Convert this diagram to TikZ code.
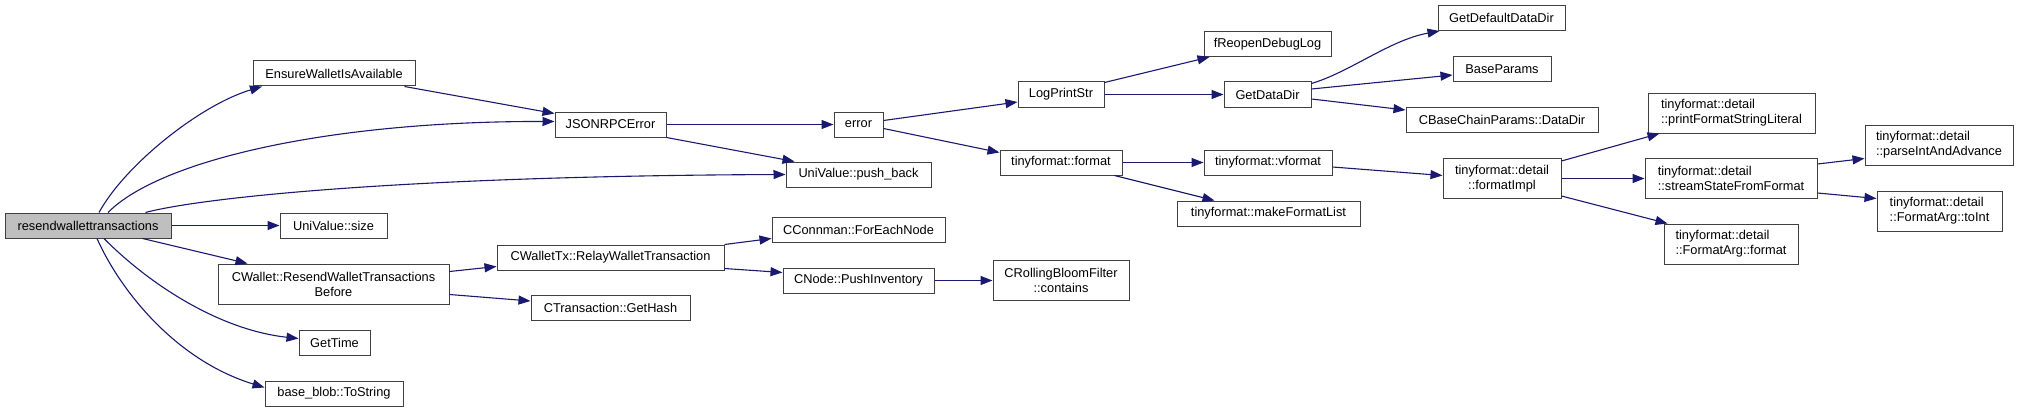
\documentclass[tikz,border=0pt]{standalone}
\usepackage{fontspec}
\setmainfont{Liberation Sans}
\usetikzlibrary{positioning,arrows.meta}
\definecolor{edgeblue}{HTML}{191970}
\definecolor{boxline}{HTML}{404040}

\begin{document}
\begin{tikzpicture}[x=1pt,y=-1pt,>={Triangle[length=12pt,width=9pt]},
  fn/.style={draw=boxline,line width=1pt,fill=white,minimum height=25pt,inner xsep=2pt,inner ysep=0pt,font=\fontsize{12.8}{15}\selectfont},
  fn2/.style={fn,minimum height=40pt},
  call/.style={->,draw=edgeblue,line width=1.1pt}]
\useasboundingbox (0,0) rectangle (2019,412);
\node[fn,fill=black!25,minimum width=166] (resend) at (88,225.5) {resendwallettransactions};
\node[fn,minimum width=162] (ensure) at (334,73.5) {EnsureWalletIsAvailable};
\node[fn,minimum width=111] (jsonrpc) at (610.5,124.5) {JSONRPCError};
\node[fn,minimum width=145] (pushback) at (858.5,174.5) {UniValue::push\_back};
\node[fn,minimum width=107] (size) at (333.5,225.5) {UniValue::size};
\node[fn2,minimum width=231,align=center] (resendbefore) at (333.5,284) {CWallet::ResendWalletTransactions\\Before};
\node[fn,minimum width=71] (gettime) at (334.5,342.5) {GetTime};
\node[fn,minimum width=138] (tostring) at (334,393.5) {base\_blob::ToString};
\node[fn,minimum width=49] (error) at (858.5,124.5) {error};
\node[fn,minimum width=227] (relay) at (610.5,257.5) {CWalletTx::RelayWalletTransaction};
\node[fn,minimum width=159] (gethash) at (610.5,308) {CTransaction::GetHash};
\node[fn,minimum width=86] (logprintstr) at (1061,94.5) {LogPrintStr};
\node[fn,minimum width=122] (tfformat) at (1061,162.5) {tinyformat::format};
\node[fn,minimum width=173] (foreachnode) at (858.5,229.5) {CConnman::ForEachNode};
\node[fn,minimum width=151] (pushinv) at (858.5,280.5) {CNode::PushInventory};
\node[fn2,minimum width=136,align=center] (bloom) at (1061,280.5) {CRollingBloomFilter\\::contains};
\node[fn,minimum width=127] (freopen) at (1267.5,44) {fReopenDebugLog};
\node[fn,minimum width=87] (getdatadir) at (1267.5,94.5) {GetDataDir};
\node[fn,minimum width=128] (vformat) at (1268,162.5) {tinyformat::vformat};
\node[fn,minimum width=183] (makeformatlist) at (1268.5,213.5) {tinyformat::makeFormatList};
\node[fn,minimum width=127] (getdefault) at (1501.5,18) {GetDefaultDataDir};
\node[fn,minimum width=98] (baseparams) at (1502,69) {BaseParams};
\node[fn,minimum width=192] (datadir) at (1502,120) {CBaseChainParams::DataDir};
\node[fn2,minimum width=118,align=center] (formatimpl) at (1502,178.5) {tinyformat::detail\\::formatImpl};
\node[fn2,minimum width=167,align=left] (printliteral) at (1731.5,113) {tinyformat::detail\\::printFormatStringLiteral};
\node[fn2,minimum width=172,align=left] (streamstate) at (1731,178.5) {tinyformat::detail\\::streamStateFromFormat};
\node[fn2,minimum width=134,align=left] (fargformat) at (1731,244) {tinyformat::detail\\::FormatArg::format};
\node[fn2,minimum width=148,align=left] (parseint) at (1939,145) {tinyformat::detail\\::parseIntAndAdvance};
\node[fn2,minimum width=125,align=left] (toint) at (1939.5,211) {tinyformat::detail\\::FormatArg::toInt};
\draw[call] ([xshift=11pt]resend.north) .. controls (125,165) and (200,105) .. ([xshift=-72pt]ensure.south);
\draw[call] ([xshift=20pt]resend.north) .. controls (160,160) and (330,121) .. ([yshift=3pt]jsonrpc.west);
\draw[call] ([xshift=-26pt]resend.north east) .. controls (200,198) and (400,176) .. (pushback.west);
\draw[call] (resend) -- (size);
\draw[call] ([xshift=-29pt]resend.south east) -- ([xshift=30pt]resendbefore.north west);
\draw[call] ([xshift=16pt]resend.south) .. controls (150,285) and (220,330) .. ([yshift=4pt]gettime.west);
\draw[call] ([xshift=9pt]resend.south) .. controls (120,290) and (175,360) .. ([yshift=6pt]tostring.west);
\draw[call] ([xshift=-11pt]ensure.south east) -- ([yshift=-2pt]jsonrpc.north west);
\draw[call] (jsonrpc) -- (error);
\draw[call] (jsonrpc.south east) -- ([xshift=9pt]pushback.north west);
\draw[call] ([yshift=4pt]error.east) -- ([yshift=-7.5pt]logprintstr.west);
\draw[call] ([yshift=-4pt]error.east) -- ([yshift=-3pt]tfformat.north west);
\draw[call] ([yshift=-1pt]logprintstr.north east) -- ([xshift=6pt]freopen.south west);
\draw[call] (logprintstr) -- (getdatadir);
\draw[call] ([yshift=-2pt]getdatadir.north east) .. controls (1350,72) and (1390,40) .. ([xshift=2pt]getdefault.south west);
\draw[call] ([yshift=5.5pt]getdatadir.east) -- ([yshift=-6pt]baseparams.west);
\draw[call] ([yshift=-4.5pt]getdatadir.east) -- ([yshift=10pt]datadir.west);
\draw[call] (tfformat) -- (vformat);
\draw[call] ([xshift=-8pt]tfformat.south east) -- ([xshift=38pt]makeformatlist.north west);
\draw[call] ([yshift=-4.5pt]vformat.east) -- ([yshift=3pt]formatimpl.west);
\draw[call] ([yshift=-3pt]formatimpl.north east) -- ([xshift=12pt]printliteral.south west);
\draw[call] (formatimpl) -- (streamstate);
\draw[call] ([yshift=3pt]formatimpl.south east) -- ([xshift=4pt]fargformat.north west);
\draw[call] ([yshift=-6pt]streamstate.north east) -- ([yshift=7pt]parseint.south west);
\draw[call] ([yshift=6pt]streamstate.south east) -- ([yshift=-8pt]toint.north west);
\draw[call] ([yshift=-8pt]resendbefore.north east) -- ([yshift=4pt]relay.south west);
\draw[call] ([yshift=10pt]resendbefore.south east) -- ([yshift=-6pt]gethash.north west);
\draw[call] (relay.north east) -- ([yshift=4pt]foreachnode.south west);
\draw[call] ([yshift=2pt]relay.south east) -- ([yshift=-5pt]pushinv.north west);
\draw[call] (pushinv) -- (bloom);
\end{tikzpicture}
\end{document}
